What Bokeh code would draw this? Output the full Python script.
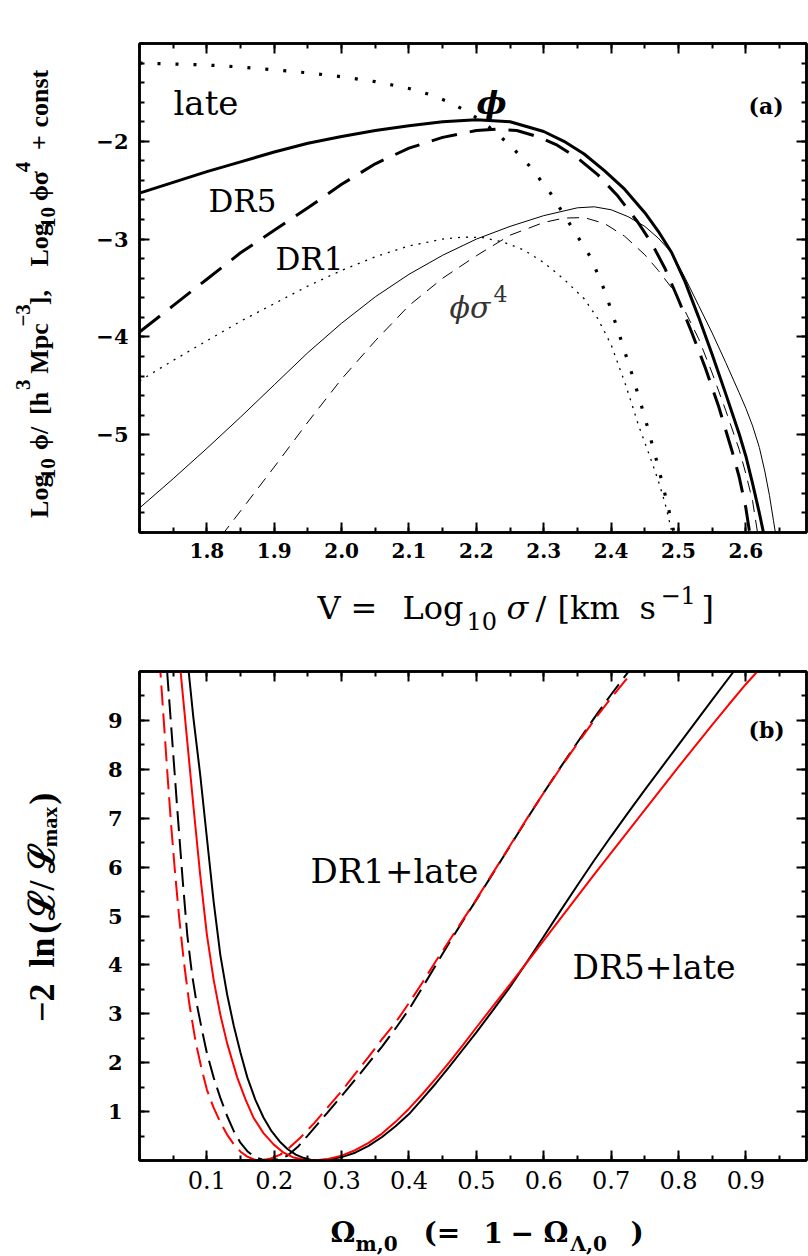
import math
import numpy as np
from bokeh.plotting import figure
from bokeh.models import Range1d, LinearAxis, FixedTicker, Label, CustomJSTickFormatter
from bokeh.layouts import column, row
from bokeh.embed import file_html
from bokeh.resources import INLINE

# ---------------- panel (a): velocity functions ----------------
# thick solid: DR5 phi
v_dr5_phi = [1.70, 1.75, 1.80, 1.85, 1.90, 1.95, 2.00, 2.05, 2.10, 2.15, 2.20, 2.25, 2.30, 2.33,
             2.36, 2.39, 2.42, 2.45, 2.47, 2.49, 2.51, 2.53, 2.55, 2.57, 2.59, 2.60, 2.61, 2.62, 2.627]
logphi_dr5 = [-2.53, -2.42, -2.31, -2.21, -2.11, -2.02, -1.95, -1.89, -1.84, -1.80, -1.78, -1.80, -1.90, -2.00,
              -2.13, -2.30, -2.49, -2.73, -2.92, -3.14, -3.44, -3.80, -4.18, -4.58, -4.99, -5.22, -5.50, -5.80, -6.03]
# thick dashed: DR1 phi
v_dr1_phi = [1.70, 1.75, 1.80, 1.85, 1.90, 1.95, 2.00, 2.05, 2.10, 2.15, 2.20, 2.23, 2.26, 2.29, 2.32,
             2.35, 2.38, 2.41, 2.44, 2.46, 2.48, 2.50, 2.52, 2.54, 2.56, 2.58, 2.59, 2.60, 2.606]
logphi_dr1 = [-3.95, -3.68, -3.41, -3.14, -2.91, -2.68, -2.44, -2.23, -2.07, -1.96, -1.89, -1.875, -1.89, -1.95, -2.04,
              -2.17, -2.34, -2.56, -2.83, -3.04, -3.30, -3.62, -3.96, -4.32, -4.72, -5.18, -5.43, -5.75, -6.02]
# thick dotted: late-type phi
v_late_phi = [1.70, 1.75, 1.80, 1.85, 1.90, 1.95, 2.00, 2.05, 2.10, 2.13, 2.16, 2.19, 2.22, 2.25, 2.28,
              2.31, 2.34, 2.37, 2.39, 2.41, 2.43, 2.45, 2.47, 2.485, 2.495]
logphi_late = [-1.20, -1.21, -1.22, -1.24, -1.27, -1.30, -1.34, -1.39, -1.46, -1.52, -1.60, -1.71, -1.86, -2.04, -2.26,
               -2.53, -2.86, -3.19, -3.52, -3.93, -4.36, -4.82, -5.33, -5.75, -6.05]
# thin solid: DR5 phi sigma^4
v_dr5_ps4 = [1.70, 1.75, 1.80, 1.85, 1.90, 1.95, 2.00, 2.05, 2.10, 2.15, 2.20, 2.25, 2.30, 2.35, 2.375,
             2.40, 2.425, 2.45, 2.47, 2.49, 2.51, 2.53, 2.55, 2.57, 2.59, 2.60, 2.61, 2.62, 2.628, 2.635, 2.641, 2.645]
logps4_dr5 = [-5.75, -5.45, -5.14, -4.82, -4.49, -4.16, -3.86, -3.59, -3.36, -3.165, -3.00, -2.87, -2.76, -2.68, -2.67,
              -2.70, -2.77, -2.87, -2.99, -3.14, -3.40, -3.68, -3.96, -4.26, -4.57, -4.73, -4.91, -5.13, -5.37, -5.62,
              -5.88, -6.05]
# thin dashed: DR1 phi sigma^4
v_dr1_ps4 = [1.822, 1.85, 1.90, 1.95, 2.00, 2.05, 2.10, 2.15, 2.20, 2.25, 2.30, 2.33, 2.36, 2.39, 2.42,
             2.45, 2.47, 2.49, 2.51, 2.53, 2.55, 2.57, 2.59, 2.60, 2.61, 2.618]
logps4_dr1 = [-6.03, -5.78, -5.33, -4.87, -4.43, -4.04, -3.68, -3.40, -3.17, -2.96, -2.83, -2.785, -2.78, -2.84, -2.97,
              -3.16, -3.32, -3.50, -3.74, -4.02, -4.37, -4.75, -5.15, -5.40, -5.68, -6.03]
# thin dotted: late-type phi sigma^4
v_late_ps4 = [1.70, 1.75, 1.80, 1.85, 1.90, 1.95, 2.00, 2.05, 2.10, 2.15, 2.18, 2.21, 2.24, 2.27, 2.30,
              2.33, 2.36, 2.38, 2.40, 2.42, 2.43, 2.44, 2.45, 2.46, 2.47, 2.48, 2.488, 2.491]
logps4_late = [-4.45, -4.24, -4.04, -3.84, -3.66, -3.48, -3.32, -3.18, -3.07, -3.00, -2.98, -2.985, -3.03, -3.11, -3.24,
               -3.41, -3.61, -3.81, -4.08, -4.46, -4.67, -4.89, -5.08, -5.27, -5.47, -5.70, -5.93, -6.03]

xa_major = [1.8, 1.9, 2.0, 2.1, 2.2, 2.3, 2.4, 2.5, 2.6]
ya_major = [-5, -4, -3, -2]

# ---------------- panel (b): -2 ln(L/Lmax) vs Omega_m ----------------
# DR5+late, black solid
om_dr5_a = [0.073, 0.080, 0.090, 0.100, 0.110, 0.120, 0.130, 0.140, 0.150, 0.160, 0.172, 0.184, 0.196, 0.208,
            0.220, 0.232, 0.244, 0.254, 0.264, 0.280, 0.300, 0.320, 0.340, 0.360, 0.380, 0.400, 0.420, 0.440,
            0.460, 0.480, 0.500, 0.525, 0.550, 0.575, 0.600, 0.625, 0.650, 0.675, 0.700, 0.725, 0.750, 0.775,
            0.800, 0.825, 0.850, 0.882]
chi_dr5_a = [10.0, 9.05, 7.9, 6.6, 5.3, 4.2, 3.4, 2.75, 2.20, 1.70, 1.24, 0.88, 0.60, 0.39,
             0.23, 0.12, 0.05, 0.015, 0.0, 0.02, 0.07, 0.16, 0.30, 0.48, 0.70, 0.95, 1.26, 1.58,
             1.92, 2.27, 2.62, 3.08, 3.55, 4.06, 4.58, 5.11, 5.63, 6.14, 6.63, 7.11, 7.58, 8.04,
             8.50, 8.96, 9.42, 10.0]
# DR5+late, red solid
om_dr5_b = [0.061, 0.070, 0.080, 0.090, 0.100, 0.110, 0.120, 0.130, 0.145, 0.157, 0.169, 0.184, 0.199, 0.214,
            0.229, 0.244, 0.258, 0.280, 0.300, 0.320, 0.340, 0.360, 0.380, 0.400, 0.420, 0.440, 0.460, 0.480,
            0.500, 0.525, 0.550, 0.575, 0.600, 0.625, 0.650, 0.675, 0.700, 0.725, 0.750, 0.775, 0.800, 0.825,
            0.850, 0.875, 0.900, 0.917]
chi_dr5_b = [10.0, 8.70, 7.25, 5.85, 4.62, 3.70, 2.98, 2.40, 1.70, 1.26, 0.88, 0.56, 0.33, 0.16,
             0.06, 0.015, 0.0, 0.03, 0.10, 0.21, 0.36, 0.55, 0.79, 1.06, 1.36, 1.68, 2.01, 2.36,
             2.72, 3.16, 3.60, 4.05, 4.50, 4.95, 5.40, 5.85, 6.29, 6.73, 7.17, 7.61, 8.05, 8.48,
             8.91, 9.33, 9.74, 10.0]
# DR1+late, black dashed
om_dr1_a = [0.041, 0.048, 0.056, 0.064, 0.071, 0.078, 0.085, 0.093, 0.100, 0.110, 0.120, 0.130, 0.140, 0.150,
            0.160, 0.170, 0.182, 0.194, 0.210, 0.220, 0.235, 0.249, 0.264, 0.279, 0.300, 0.320, 0.340, 0.360,
            0.380, 0.400, 0.420, 0.440, 0.460, 0.480, 0.500, 0.520, 0.540, 0.560, 0.580, 0.600, 0.620, 0.640,
            0.660, 0.680, 0.700, 0.726]
chi_dr1_a = [10.0, 8.7, 7.2, 5.75, 4.60, 3.80, 3.20, 2.65, 2.20, 1.70, 1.28, 0.91, 0.60, 0.36,
             0.19, 0.08, 0.02, 0.0, 0.04, 0.10, 0.28, 0.50, 0.74, 0.98, 1.32, 1.65, 1.99, 2.33,
             2.70, 3.09, 3.54, 4.00, 4.46, 4.90, 5.33, 5.77, 6.21, 6.65, 7.09, 7.52, 7.94, 8.35,
             8.75, 9.15, 9.53, 10.0]
# DR1+late, red dashed
om_dr1_b = [0.031, 0.037, 0.042, 0.047, 0.053, 0.059, 0.066, 0.074, 0.083, 0.092, 0.100, 0.110, 0.120, 0.130,
            0.140, 0.150, 0.160, 0.170, 0.180, 0.195, 0.209, 0.224, 0.239, 0.259, 0.279, 0.300, 0.320, 0.340,
            0.360, 0.380, 0.400, 0.420, 0.440, 0.460, 0.480, 0.500, 0.520, 0.540, 0.560, 0.580, 0.600, 0.620,
            0.640, 0.660, 0.680, 0.700, 0.720, 0.733]
chi_dr1_b = [10.0, 8.8, 7.8, 6.85, 5.85, 4.95, 4.05, 3.20, 2.45, 1.88, 1.45, 1.08, 0.78, 0.53,
             0.33, 0.18, 0.08, 0.02, 0.0, 0.04, 0.12, 0.28, 0.47, 0.76, 1.08, 1.42, 1.77, 2.12,
             2.48, 2.82, 3.22, 3.64, 4.08, 4.50, 4.92, 5.34, 5.78, 6.22, 6.66, 7.10, 7.52, 7.93,
             8.33, 8.72, 9.10, 9.46, 9.80, 10.0]

xb_major = [0.1, 0.2, 0.3, 0.4, 0.5, 0.6, 0.7, 0.8, 0.9]
yb_major = [1, 2, 3, 4, 5, 6, 7, 8, 9]

# ---------------- layout constants (page pixels) ----------------
W = 808
STRIP = 62
FL, FR = 139, 806
A_T, A_B = 43, 532
B_T, B_B = 671, 1160
ROW1 = (0, 570)
XSTRIP_A = (570, 635)
ROW2 = (635, 1200)
XSTRIP_B = (1200, 1256)
XA = (1.7, 2.69)
YA = (-6.0, -1.0)
XB = (0.0, 0.99)
YB = (0.0, 10.0)
R = math.pi / 2


def conv_a(px, py):
    return (XA[0] + (px - FL) * (XA[1] - XA[0]) / (FR - FL),
            YA[1] - (py - A_T) * (YA[1] - YA[0]) / (A_B - A_T))


def conv_b(px, py):
    return (XB[0] + (px - FL) * (XB[1] - XB[0]) / (FR - FL),
            YB[1] - (py - B_T) * (YB[1] - YB[0]) / (B_B - B_T))


def ident(px, py):
    return (px, py)


def put(p, conv, px, py, text, size, font="DejaVu Serif", style="normal", color="black",
        angle=0.0, align="left"):
    x, y = conv(px, py)
    p.add_layout(Label(x=x, y=y, text=text, text_font=font, text_font_size=f"{size}px",
                       text_font_style=style, text_color=color, angle=angle,
                       text_align=align, text_baseline="alphabetic"))


def style_axis(ax, ticker, fmt_code, font, size, weight, standoff, show=True):
    ax.ticker = ticker
    ax.axis_line_width = 2.5
    ax.axis_line_color = "black"
    ax.major_tick_in = 10
    ax.major_tick_out = 0
    ax.minor_tick_in = 5
    ax.minor_tick_out = 0
    ax.major_tick_line_width = 2
    ax.minor_tick_line_width = 2
    ax.major_tick_line_color = "black"
    ax.minor_tick_line_color = "black"
    if show:
        ax.formatter = CustomJSTickFormatter(code=fmt_code)
        ax.major_label_text_font = font
        ax.major_label_text_font_size = f"{size}px"
        ax.major_label_text_font_style = weight
        ax.major_label_text_color = "black"
        ax.major_label_standoff = standoff
    else:
        ax.formatter = CustomJSTickFormatter(code="return ''")
        ax.major_label_standoff = 0


def make_fig(rowspan, xr, yr, ftop, fbot):
    h = rowspan[1] - rowspan[0]
    p = figure(width=W - STRIP, height=h, x_range=Range1d(*xr), y_range=Range1d(*yr),
               toolbar_location=None, output_backend="svg",
               min_border_left=FL - STRIP, min_border_right=W - FR,
               min_border_top=ftop - rowspan[0], min_border_bottom=rowspan[1] - fbot)
    p.xgrid.visible = False
    p.ygrid.visible = False
    p.outline_line_color = "black"
    p.outline_line_width = 2.5
    p.background_fill_color = "white"
    p.border_fill_color = "white"
    return p


def make_strip(x0, x1, y0, y1):
    s = figure(width=x1 - x0, height=y1 - y0, x_range=Range1d(x0, x1), y_range=Range1d(y1, y0),
               toolbar_location=None, output_backend="svg", x_axis_location=None, y_axis_location=None,
               min_border=0, min_border_left=0, min_border_right=0, min_border_top=0, min_border_bottom=0)
    s.xgrid.visible = False
    s.ygrid.visible = False
    s.outline_line_color = None
    s.background_fill_color = "white"
    s.border_fill_color = "white"
    return s


# ================= panel (a) =================
pa = make_fig(ROW1, XA, YA, A_T, A_B)
xa_ticker = FixedTicker(ticks=xa_major, minor_ticks=[round(v, 2) for v in np.arange(1.70, 2.70, 0.05)])
ya_ticker = FixedTicker(ticks=ya_major, minor_ticks=[round(v, 1) for v in np.arange(-6.0, -0.99, 0.2)])
style_axis(pa.xaxis[0], xa_ticker, "return tick.toFixed(1)", "DejaVu Serif", 20, "bold", 10)
style_axis(pa.yaxis[0], ya_ticker, "return (tick < 0 ? '\u2212' : '') + Math.abs(tick).toFixed(0)",
           "DejaVu Serif", 21, "bold", 11)
ta = LinearAxis()
style_axis(ta, xa_ticker, "", "", 0, "normal", 0, show=False)
pa.add_layout(ta, "above")
ra = LinearAxis()
style_axis(ra, ya_ticker, "", "", 0, "normal", 0, show=False)
pa.add_layout(ra, "right")

pa.line(v_late_ps4, logps4_late, line_color="black", line_width=1.3, line_dash="2 6")
pa.line(v_dr1_ps4, logps4_dr1, line_color="black", line_width=1.0, line_dash="12 8")
pa.line(v_dr5_ps4, logps4_dr5, line_color="black", line_width=1.0)
pa.line(v_late_phi, logphi_late, line_color="black", line_width=3.2, line_dash="3 15")
pa.line(v_dr1_phi, logphi_dr1, line_color="black", line_width=3.0, line_dash="26 13")
pa.line(v_dr5_phi, logphi_dr5, line_color="black", line_width=3.0)

put(pa, conv_a, 173, 102, "late", 34)
put(pa, conv_a, 208, 200, "DR5", 31)
put(pa, conv_a, 275, 258, "DR1", 31)
put(pa, conv_a, 491, 102, "ϕ", 32, style="bold italic", align="center")
put(pa, conv_a, 449, 307, "ϕσ", 30, style="italic", color="#333333")
put(pa, conv_a, 493, 293, "4", 22, color="#333333")
put(pa, conv_a, 748, 105, "(a)", 22, style="bold")

# y-axis title of panel (a), in a strip on the left
sya = make_strip(0, STRIP, ROW1[0], ROW1[1])
YF = "Liberation Serif"
for txt, py, kind in [("Log", 553, "m"), ("10", 508, "sub"), ("ϕ/", 474, "m"), ("[h", 433, "m"),
                      ("3", 404, "sup"), ("Mpc", 385, "m"), ("−3", 330, "sup"), ("],", 305, "m"),
                      ("Log", 260, "m"), ("10", 215, "sub"), ("ϕσ", 184, "m"), ("4", 150, "sup"),
                      ("+", 124, "m"), ("const", 98, "m")]:
    if kind == "m":
        put(sya, ident, 39, py, txt, 26, font=YF, style="bold", angle=R)
    elif kind == "sub":
        put(sya, ident, 47, py, txt, 21, font=YF, style="bold", angle=R)
    else:
        put(sya, ident, 22, py, txt, 21, font=YF, style="bold", angle=R)

# x-axis title of panel (a), in a strip below
sxa = make_strip(0, W, XSTRIP_A[0], XSTRIP_A[1])
XF = "DejaVu Serif"
put(sxa, ident, 317, 607, "V", 32, font=XF)
put(sxa, ident, 350, 607, "=", 32, font=XF)
put(sxa, ident, 402, 607, "Log", 32, font=XF)
put(sxa, ident, 466, 620, "10", 24, font=XF)
put(sxa, ident, 506, 607, "σ", 32, font=XF, style="italic")
put(sxa, ident, 535, 607, "/", 32, font=XF)
put(sxa, ident, 557, 607, "[km", 32, font=XF)
put(sxa, ident, 639, 607, "s", 32, font=XF)
put(sxa, ident, 660, 594, "−1", 24, font=XF)
put(sxa, ident, 701, 607, "]", 32, font=XF)

# ================= panel (b) =================
pb = make_fig(ROW2, XB, YB, B_T, B_B)
xb_ticker = FixedTicker(ticks=xb_major, minor_ticks=[round(v, 2) for v in np.arange(0.0, 1.0, 0.05)])
yb_ticker = FixedTicker(ticks=yb_major, minor_ticks=[round(v, 1) for v in np.arange(0.0, 10.01, 0.5)])
style_axis(pb.xaxis[0], xb_ticker, "return tick.toFixed(1)", "DejaVu Serif", 24, "normal", 10)
style_axis(pb.yaxis[0], yb_ticker, "return tick.toFixed(0)", "DejaVu Serif", 21, "bold", 17)
tb = LinearAxis()
style_axis(tb, xb_ticker, "", "", 0, "normal", 0, show=False)
pb.add_layout(tb, "above")
rb = LinearAxis()
style_axis(rb, yb_ticker, "", "", 0, "normal", 0, show=False)
pb.add_layout(rb, "right")

pb.line(om_dr1_a, chi_dr1_a, line_color="black", line_width=2.0, line_dash="20 8")
pb.line(om_dr1_b, chi_dr1_b, line_color="red", line_width=2.0, line_dash="20 8", line_dash_offset=14)
pb.line(om_dr5_a, chi_dr5_a, line_color="black", line_width=2.0)
pb.line(om_dr5_b, chi_dr5_b, line_color="red", line_width=2.0)

put(pb, conv_b, 310, 870, "DR1+late", 34)
put(pb, conv_b, 572, 967, "DR5+late", 33)
put(pb, conv_b, 748, 729, "(b)", 22, style="bold")

# y-axis title of panel (b)
syb = make_strip(0, STRIP, ROW2[0], ROW2[1])
for txt, py, kind in [("−2", 1040, "m"), ("ln", 977, "m"), ("(", 938, "m"), ("ℒ", 922, "m"),
                      ("/", 888, "m"), ("ℒ", 868, "m"), ("max", 838, "sub"), (")", 789, "m")]:
    if kind == "m":
        put(syb, ident, 41, py, txt, 36, font="Liberation Serif", style="bold", angle=R)
    else:
        put(syb, ident, 49, py, txt, 22, font="Liberation Serif", style="bold", angle=R)

# x-axis title of panel (b)
sxb = make_strip(0, W, XSTRIP_B[0], XSTRIP_B[1])
BF = "DejaVu Serif"
put(sxb, ident, 330, 1232, "Ω", 28, font=BF, style="bold")
put(sxb, ident, 355, 1243, "m,0", 20, font=BF, style="bold")
put(sxb, ident, 423, 1232, "(=", 28, font=BF, style="bold")
put(sxb, ident, 483, 1232, "1", 28, font=BF, style="bold")
put(sxb, ident, 510, 1232, "−", 28, font=BF, style="bold")
put(sxb, ident, 543, 1232, "Ω", 28, font=BF, style="bold")
put(sxb, ident, 570, 1243, "Λ,0", 20, font=BF, style="bold")
put(sxb, ident, 630, 1232, ")", 28, font=BF, style="bold")

layout = column(row(sya, pa, spacing=0), sxa, row(syb, pb, spacing=0), sxb, spacing=0)
open("out.html", "w").write(file_html(layout, INLINE))
